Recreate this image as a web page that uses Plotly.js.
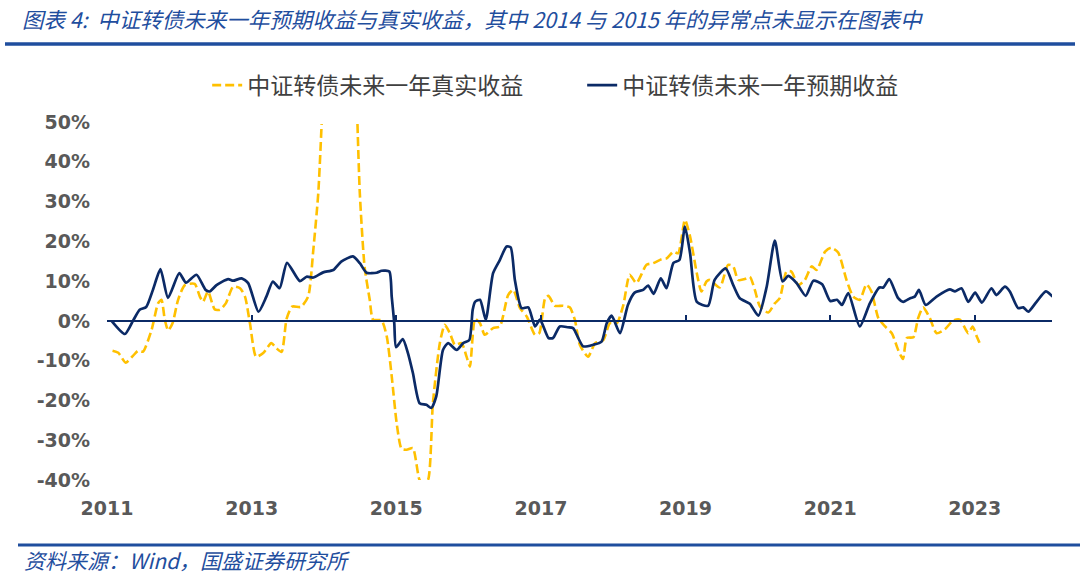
<!DOCTYPE html>
<html>
<head>
<meta charset="utf-8">
<script src="https://cdn.plot.ly/plotly-3.0.1.min.js"></script>
<style>
html,body{margin:0;padding:0;background:#fff;}
#chart{width:1080px;height:574px;}
</style>
</head>
<body>
<div id="chart"></div>
<script>
// 中证转债未来一年预期收益 (%)
const expectedDates = [
"2011-01-24","2011-04-01","2011-05-12","2011-06-15","2011-07-18","2011-08-21","2011-09-28","2011-11-05",
"2012-01-01","2012-02-04","2012-03-28","2012-05-13","2012-06-03","2012-07-07","2012-09-04","2012-09-29","2012-11-11","2012-12-14",
"2013-02-04","2013-03-16","2013-04-18","2013-05-22","2013-06-28","2013-09-01","2013-10-05","2013-11-08","2013-12-28",
"2014-02-17","2014-03-29","2014-05-27","2014-07-01","2014-08-04","2014-09-24","2014-10-19","2014-11-27","2014-12-09","2014-12-22","2014-12-31",
"2015-02-03","2015-03-01","2015-03-26","2015-04-29","2015-06-02","2015-06-27","2015-07-22","2015-08-25","2015-09-20","2015-11-02","2015-12-05",
"2016-01-05","2016-01-22","2016-02-03","2016-02-28","2016-03-28","2016-05-04","2016-06-07","2016-07-11","2016-08-01","2016-08-22","2016-09-25","2016-10-29","2016-12-02","2016-12-27",
"2017-02-08","2017-03-03","2017-04-06","2017-05-17","2017-06-12","2017-08-02","2017-09-22","2017-11-03","2017-11-29","2017-12-24",
"2018-02-04","2018-03-16","2018-04-19","2018-06-01","2018-06-26","2018-07-24","2018-08-29","2018-09-27","2018-11-01","2018-12-01","2018-12-29",
"2019-01-24","2019-02-27","2019-04-25","2019-05-28","2019-07-23","2019-08-30","2019-10-02","2019-11-22",
"2020-01-04","2020-02-15","2020-03-27","2020-05-05","2020-06-03","2020-07-15","2020-08-30","2020-10-08","2020-11-21",
"2021-01-01","2021-02-04","2021-03-01","2021-04-02","2021-05-30","2021-07-20","2021-09-06","2021-09-26","2021-10-26","2021-12-10",
"2022-01-05","2022-02-09","2022-03-04","2022-03-25","2022-04-28","2022-06-22","2022-08-28","2022-09-23","2022-10-26","2022-11-29",
"2023-01-03","2023-02-06","2023-03-26","2023-04-20","2023-06-02","2023-06-27","2023-08-08","2023-09-03","2023-09-28","2023-11-09","2023-12-26",
"2024-01-29"
];
const expectedValues = [
0.0,-3.3,0.0,2.8,3.5,7.8,13.0,5.8,
12.0,9.6,11.6,7.8,7.4,9.0,10.5,10.1,10.7,9.5,
2.3,6.1,9.9,8.2,14.6,10.0,11.1,10.9,12.2,
12.8,14.9,16.2,14.5,12.1,12.1,12.6,12.4,6.1,-0.6,-6.6,
-4.6,-8.1,-13.1,-20.7,-21.1,-21.9,-19.0,-7.3,-5.6,-7.3,-5.6,
-4.8,2.8,4.8,5.3,0.3,12.0,15.3,18.7,18.5,10.3,3.2,3.4,-1.4,0.3,
-4.3,-4.3,-1.4,-1.6,-1.8,-6.4,-6.0,-5.2,-0.6,1.3,
-3.1,4.0,7.1,7.8,8.9,6.8,10.7,8.2,14.6,15.3,23.7,
17.0,4.8,3.8,10.3,13.2,9.0,5.7,4.3,
1.3,8.6,20.2,9.9,11.3,9.5,6.3,10.1,9.2,
5.0,5.3,4.0,7.0,-1.4,4.4,8.4,8.4,10.5,5.7,
4.8,5.7,6.1,7.8,4.0,6.1,7.9,7.4,8.2,4.8,
7.1,4.6,8.2,6.5,8.6,7.4,3.2,3.4,2.3,4.8,7.4,
6.1
];

// 中证转债未来一年真实收益 (%); 2014 anomaly points are left out (null)
const realDates = [
"2011-01-29","2011-02-27","2011-04-05","2011-05-12","2011-06-07","2011-07-02","2011-08-14","2011-09-16","2011-10-03","2011-10-20","2011-11-06","2011-11-28","2011-12-26",
"2012-01-29","2012-03-19","2012-04-14","2012-04-30","2012-05-25","2012-06-28","2012-07-24","2012-08-23","2012-09-29","2012-11-03","2012-11-28","2012-12-23",
"2013-01-23","2013-02-28","2013-04-10","2013-05-06","2013-06-01","2013-06-26","2013-07-24","2013-09-06","2013-10-13","2013-11-08","2013-12-03","2013-12-20",
"2014-03-15",
"2014-06-19","2014-07-01","2014-07-25","2014-08-20","2014-09-06","2014-10-19","2014-11-14","2014-12-09",
"2015-01-03","2015-01-28","2015-02-23","2015-03-26","2015-04-29","2015-05-19","2015-06-10","2015-07-05","2015-08-09","2015-09-03","2015-09-29","2015-10-24","2015-11-27","2015-12-22",
"2016-01-08","2016-02-03","2016-02-28","2016-03-23","2016-05-04","2016-06-07","2016-07-19","2016-08-14","2016-09-17","2016-10-21","2016-12-02","2016-12-23",
"2017-01-22","2017-02-08","2017-03-12","2017-04-23","2017-05-26","2017-06-21","2017-07-16","2017-08-27","2017-10-01","2017-11-12","2017-12-15",
"2018-01-19","2018-02-21","2018-03-25","2018-04-28","2018-06-18","2018-07-21","2018-09-02","2018-09-27","2018-11-01","2018-11-25","2018-12-29",
"2019-01-24","2019-02-27","2019-03-22","2019-04-17","2019-05-03","2019-06-23","2019-08-04","2019-08-30","2019-09-24","2019-10-28","2019-11-22","2019-12-17",
"2020-01-12","2020-02-23","2020-03-27","2020-04-21","2020-05-25","2020-06-19","2020-07-23","2020-08-26","2020-09-29","2020-10-24","2020-12-06",
"2021-01-05","2021-02-10","2021-03-24","2021-04-27","2021-05-30","2021-07-03","2021-07-28","2021-09-01","2021-10-05","2021-11-08","2021-12-10",
"2022-01-03","2022-01-23","2022-02-25","2022-03-21","2022-04-15","2022-05-19","2022-06-22","2022-08-03","2022-09-14","2022-10-18","2022-11-29","2022-12-21",
"2023-01-11","2023-02-02"
];
const realValues = [
-7.5,-8.0,-10.5,-8.8,-7.5,-7.7,-2.3,4.4,5.3,0.3,-2.4,-0.6,5.3,
9.0,9.3,6.1,4.8,7.4,2.9,2.8,4.4,8.6,8.2,6.1,-0.6,
-9.0,-8.1,-5.6,-6.9,-7.8,0.5,3.6,3.5,6.1,17.8,32.0,49.5,
null,
49.5,32.0,13.6,5.3,0.3,0.1,-3.9,-13.9,
-25.7,-32.2,-32.4,-32.0,-40.0,-40.6,-40.0,-20.7,-5.6,-1.0,-3.1,-6.0,-5.6,-9.0,
-11.5,0.5,-0.6,-3.5,-1.8,-1.4,6.5,7.8,3.2,1.1,-3.5,-3.1,
5.7,6.3,3.8,3.8,3.4,0.3,-6.0,-9.0,-5.6,-4.8,-0.6,
-0.6,4.0,11.6,9.5,14.1,14.5,15.5,15.7,17.4,17.0,25.4,
21.2,12.0,7.4,9.9,10.3,8.4,14.1,13.7,10.3,10.5,11.1,7.8,
3.6,2.1,4.4,5.7,12.4,12.4,9.0,10.3,13.7,12.8,17.4,
18.4,17.2,10.3,6.1,5.3,9.2,7.4,0.7,-1.4,-3.1,-7.3,
-9.6,-4.3,-4.1,0.7,3.4,0.7,-3.1,-2.1,0.1,0.3,-3.1,-1.4,
-3.9,-6.4
];

const seriesNames = ["中证转债未来一年真实收益", "中证转债未来一年预期收益"];
const yTickValues = [-40,-30,-20,-10,0,10,20,30,40,50];
const yTickLabels = yTickValues.map(v => v + "%");
const xRange = ["2011-01-01", "2024-01-26"];

const NAVY = "#0B2A66";
const GOLD = "#FFC000";
const TITLE_BLUE = "#1F4E9E";

const traces = [
  {
    x: realDates, y: realValues, name: seriesNames[0],
    type: "scatter", mode: "lines", xaxis: "x", yaxis: "y",
    connectgaps: false,
    line: {color: GOLD, width: 2.6, dash: "9px,4px", shape: "spline", smoothing: 0.6}
  },
  {
    x: expectedDates, y: expectedValues, name: seriesNames[1],
    type: "scatter", mode: "lines", xaxis: "x2", yaxis: "y",
    line: {color: NAVY, width: 2.7, shape: "spline", smoothing: 0.6}
  }
];

const tickFont = {family: "DejaVu Sans", size: 19, color: "#595959", weight: "bold"};

const layout = {
  width: 1080, height: 574,
  paper_bgcolor: "#ffffff", plot_bgcolor: "#ffffff",
  margin: {l: 107, r: 28, t: 122, b: 94},
  title: {
    text: "图表 4:  中证转债未来一年预期收益与真实收益，其中 2014 与 2015 年的异常点未显示在图表中",
    x: 22/1080, xref: "container", xanchor: "left",
    y: 1 - 20/574, yref: "container", yanchor: "middle",
    font: {family: "Noto Sans CJK SC", size: 21.5, color: TITLE_BLUE, style: "italic"}
  },
  showlegend: true,
  legend: {
    orientation: "h", x: 0.106, xanchor: "left", y: 1.103, yanchor: "middle",
    font: {family: "Noto Sans CJK SC", size: 23, color: "#404040"},
    entrywidth: 330, entrywidthmode: "pixels",
    bgcolor: "rgba(0,0,0,0)"
  },
  xaxis: {
    type: "date", range: xRange, domain: [0, 1],
    anchor: "free", position: 40/90,
    showline: true, linecolor: NAVY, linewidth: 2,
    ticks: "inside", ticklen: 5, tickwidth: 2, tickcolor: NAVY,
    tick0: "2011-01-01", dtick: "M24",
    showticklabels: false, showgrid: false, zeroline: false
  },
  xaxis2: {
    type: "date", matches: "x", overlaying: "x", anchor: "y", side: "bottom",
    showline: false, ticks: "", showgrid: false, zeroline: false,
    tick0: "2011-01-01", dtick: "M24", tickformat: "%Y",
    tickfont: tickFont, ticklabelstandoff: 15
  },
  yaxis: {
    range: [-40, 50], tickvals: yTickValues, ticktext: yTickLabels,
    showgrid: false, zeroline: false, showline: false, ticks: "",
    tickfont: tickFont, ticklabelstandoff: 16
  },
  shapes: [
    {type: "line", xref: "paper", yref: "paper",
     x0: (5-107)/945, x1: (1075-107)/945, y0: (480-44)/358, y1: (480-44)/358,
     line: {color: TITLE_BLUE, width: 3.5}},
    {type: "line", xref: "paper", yref: "paper",
     x0: (18-107)/945, x1: (1080-107)/945, y0: (480-545)/358, y1: (480-545)/358,
     line: {color: TITLE_BLUE, width: 3}}
  ],
  annotations: [
    {text: "资料来源：Wind，国盛证券研究所", showarrow: false,
     xref: "paper", yref: "paper", x: (22-107)/945, xanchor: "left",
     y: (480-560)/358, yanchor: "middle",
     font: {family: "Noto Sans CJK SC", size: 21, color: TITLE_BLUE, style: "italic"}}
  ]
};

Plotly.newPlot("chart", traces, layout, {displayModeBar: false, staticPlot: true});
</script>
</body>
</html>
